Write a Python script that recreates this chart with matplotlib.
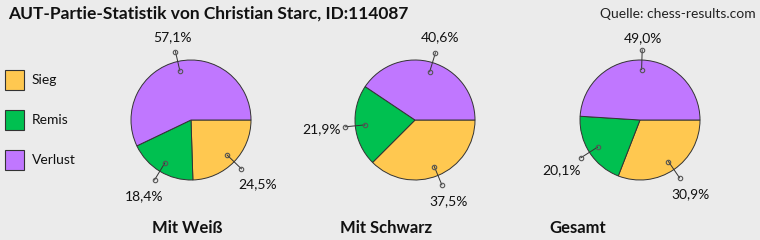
import numpy as np
import matplotlib
matplotlib.use("Agg")
import matplotlib.pyplot as plt

plt.rcParams['font.family'] = ['Lato', 'DejaVu Sans']

title = "AUT-Partie-Statistik von Christian Starc, ID:114087"
source = "Quelle: chess-results.com"
categories = ["Sieg", "Remis", "Verlust"]
groups = ["Mit Weiß", "Mit Schwarz", "Gesamt"]
mit_weiss = [24.5, 18.4, 57.1]
mit_schwarz = [37.5, 21.9, 40.6]
gesamt = [30.9, 20.1, 49.0]
series = [mit_weiss, mit_schwarz, gesamt]

colors = ["#FFC850", "#00C050", "#C077FF"]
bg = "#EBEBEB"

W, H = 760, 240
fig = plt.figure(figsize=(W / 100, H / 100), dpi=100, facecolor=bg)
ax = fig.add_axes([0, 0, 1, 1])
ax.set_facecolor(bg)

def py(y):
    return H - y

centers = [(191, 120), (415, 120), (640, 120)]
radius = 60
group_label_x = [187, 386, 578]

for vals, (cx, cy), gname, gx in zip(series, centers, groups, group_label_x):
    wedges, _ = ax.pie(vals, center=(cx, py(cy)), radius=radius, startangle=0,
                       counterclock=False, colors=colors,
                       wedgeprops=dict(edgecolor="#333333", linewidth=0.7),
                       frame=True)
    for w, v in zip(wedges, vals):
        mid = np.deg2rad((w.theta1 + w.theta2) / 2)
        c, s = np.cos(mid), np.sin(mid)
        x1, y1 = cx + 0.84 * radius * c, py(cy) + 0.84 * radius * s
        x2, y2 = cx + 1.17 * radius * c, py(cy) + 1.17 * radius * s
        ax.plot([x1, x2], [y1, y2], color="#333333", lw=0.7, zorder=5)
        ax.plot([x1, x2], [y1, y2], 'o', ms=3.2, mfc='none', mec="#555555",
                mew=0.8, zorder=6)
        txt = f"{v:.1f}".replace('.', ',') + "%"
        d = 1.17 * radius + 18 * abs(c) + 6 * abs(s) + 5
        ax.text(cx + d * c, py(cy) + d * s, txt, ha='center', va='center',
                fontsize=10, color="#111111", zorder=7)
    ax.text(gx, py(228), gname, ha='center', va='center', fontsize=12,
            fontweight='bold', color="#111111")

ax.set_xlim(0, W)
ax.set_ylim(0, H)
ax.set_aspect('equal')
ax.axis('off')

ax.text(8, py(14), title, ha='left', va='center', fontsize=12.5,
        fontweight='bold', color="#111111")
ax.text(756, py(14), source, ha='right', va='center', fontsize=10,
        color="#222222")

leg_y = [80, 120, 160]
for cat, col, ly in zip(categories, colors, leg_y):
    ax.add_patch(plt.Rectangle((4.5, py(ly) - 10), 19.5, 20, facecolor=col,
                               edgecolor="#333333", lw=0.8))
    ax.text(32, py(ly), cat, ha='left', va='center', fontsize=10,
            color="#111111")

fig.savefig("out.png", dpi=100, facecolor=bg)
